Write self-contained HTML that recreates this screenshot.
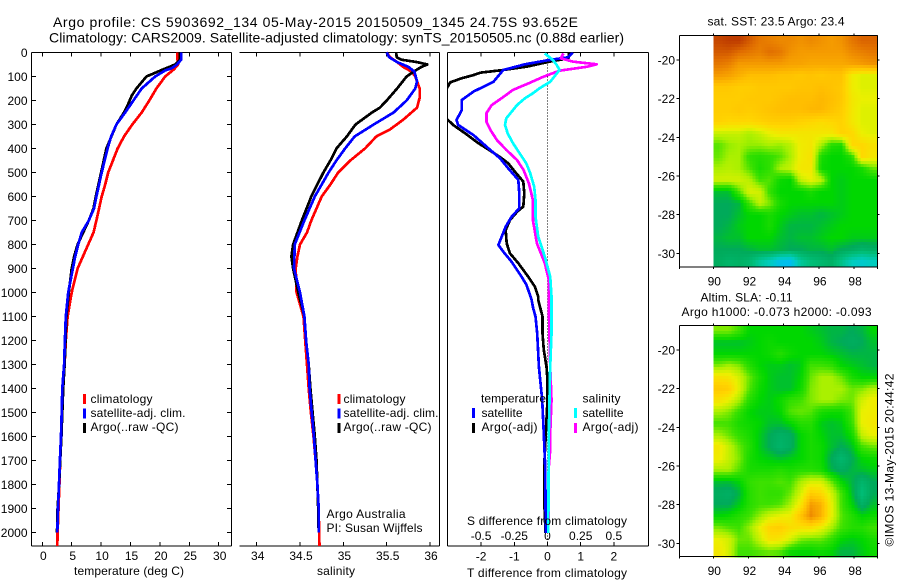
<!DOCTYPE html>
<html>
<head>
<meta charset="utf-8">
<title>Argo profile</title>
<style>
html,body{margin:0;padding:0;background:#fff;}
svg{display:block;}
text{font-family:"Liberation Sans",sans-serif;font-size:12px;fill:#000;}
</style>
</head>
<body>
<svg id="chart" xmlns="http://www.w3.org/2000/svg" width="900" height="580" viewBox="0 0 900 580">
<defs>
<clipPath id="clip-diff"><rect x="447.5" y="52.5" width="201" height="493.5"/></clipPath>
</defs>
<rect x="0" y="0" width="900" height="580" fill="#fff"/>
<text x="53" y="27" font-size="14" style="font-size:14px" textLength="525" lengthAdjust="spacing">Argo profile: CS 5903692_134 05-May-2015 20150509_1345 24.75S 93.652E</text>
<text x="49" y="42.5" style="font-size:14px" textLength="575" lengthAdjust="spacing">Climatology: CARS2009. Satellite-adjusted climatology: synTS_20150505.nc (0.88d earlier)</text>
<g id="heat-sst"></g>
<g id="heat-sla"></g>
<g id="axes"></g>
<g id="lines-temp"></g>
<g id="lines-sal"></g>
<g id="lines-diff" clip-path="url(#clip-diff)"></g>

<text x="129" y="575" text-anchor="middle" textLength="110" lengthAdjust="spacing">temperature (deg C)</text>
<text x="336" y="575" text-anchor="middle" textLength="38" lengthAdjust="spacing">salinity</text>
<text x="467" y="577" textLength="160" lengthAdjust="spacing">T difference from climatology</text>
<text x="467" y="525" textLength="160" lengthAdjust="spacing">S difference from climatology</text>

<g>
<rect x="83" y="394" width="3" height="10" fill="#f00"/>
<text x="90.5" y="403" textLength="62" lengthAdjust="spacing">climatology</text>
<rect x="83" y="408.500" width="3" height="10" fill="#00f"/>
<text x="90.5" y="417" textLength="95" lengthAdjust="spacing">satellite-adj. clim.</text>
<rect x="83" y="423" width="3" height="10" fill="#000"/>
<text x="90.5" y="431" textLength="88" lengthAdjust="spacing">Argo(..raw -QC)</text>
</g>
<g>
<rect x="337.500" y="394" width="3" height="10" fill="#f00"/>
<text x="343.500" y="403" textLength="62" lengthAdjust="spacing">climatology</text>
<rect x="337.500" y="408.500" width="3" height="10" fill="#00f"/>
<text x="343.500" y="417" textLength="95" lengthAdjust="spacing">satellite-adj. clim.</text>
<rect x="337.500" y="423" width="3" height="10" fill="#000"/>
<text x="343.500" y="431" textLength="88" lengthAdjust="spacing">Argo(..raw -QC)</text>
</g>
<text x="326.500" y="518" textLength="79" lengthAdjust="spacing">Argo Australia</text>
<text x="326.500" y="532" textLength="96" lengthAdjust="spacing">PI: Susan Wijffels</text>

<g>
<text x="481" y="402.500" textLength="65" lengthAdjust="spacing">temperature</text>
<rect x="472" y="408" width="3" height="10" fill="#00f"/>
<text x="481.500" y="417" textLength="41" lengthAdjust="spacing">satellite</text>
<rect x="472" y="423" width="3" height="10" fill="#000"/>
<text x="481.500" y="431" textLength="56" lengthAdjust="spacing">Argo(-adj)</text>
<text x="582.500" y="402.500" textLength="38" lengthAdjust="spacing">salinity</text>
<rect x="574" y="408" width="3" height="10" fill="#0ff"/>
<text x="582.500" y="417" textLength="41" lengthAdjust="spacing">satellite</text>
<rect x="574" y="423" width="3" height="10" fill="#f0f"/>
<text x="582.500" y="431" textLength="56" lengthAdjust="spacing">Argo(-adj)</text>
</g>

<text x="707.500" y="25.500" textLength="137" lengthAdjust="spacing">sat. SST: 23.5 Argo: 23.4</text>
<text x="700.500" y="301.500" textLength="92" lengthAdjust="spacing">Altim. SLA: -0.11</text>
<text x="681.500" y="316" textLength="190" lengthAdjust="spacing">Argo h1000: -0.073 h2000: -0.093</text>
<text transform="translate(893.500,546.500) rotate(-90)" x="0" y="0" textLength="173" lengthAdjust="spacing">©IMOS 13-May-2015 20:44:42</text>
</svg>

<script>
/* ---------- axis tick values ---------- */
var depthTicks = [0,100,200,300,400,500,600,700,800,900,1000,1100,1200,1300,1400,1500,1600,1700,1800,1900,2000];
var tempTicks = [0,5,10,15,20,25,30];
var salTicks = [34,34.5,35,35.5,36];
var tDiffTicks = [-2,-1,0,1,2];
var sDiffTicks = [-0.5,-0.25,0,0.25,0.5];
var lonTicks = [90,92,94,96,98];
var latTicks = [-20,-22,-24,-26,-28,-30];

/* ---------- temperature profiles ---------- */
var tempClimDepth = [0,30,50,70,100,150,200,250,300,350,400,450,500,550,600,700,750,800,850,900,950,1000,1100,1200,1300,1400,1500,1600,1700,1800,1900,2000,2056];
var tempClimValues = [23,23,23.1,22.4,20.9,19.4,18.2,16.9,15.3,13.9,12.8,12,11.2,10.7,10.1,9.2,8.7,7.8,6.9,6,5.5,5,4.3,4,3.8,3.5,3.35,3.2,3.05,2.9,2.75,2.6,2.55];
var tempSatDepth = [0,30,50,66,75,100,150,200,250,300,350,400,500,600,650,700,750,800,850,900,1000,1100,1200,1300,1400,1500,1600,1700,1800,1900,2000];
var tempSatValues = [23.6,23.6,22.9,22,20.9,19.2,16.9,15.5,14.1,12.6,11.7,11.1,10.1,9.2,8.8,7.9,6.7,6.1,5.6,5.2,4.4,4,3.85,3.7,3.4,3.3,3.18,3,2.84,2.67,2.55];
var tempArgoDepth = [0,30,50,70,100,150,180,220,250,300,400,500,600,650,700,800,850,900,1000,1100,1200,1300,1400,1500,1600,1700,1800,1900,2000];
var tempArgoValues = [23.4,23.4,22.6,20.6,17.7,16,15.2,14.5,13.9,12.6,10.9,10,9.1,8.7,7.9,6,5.4,5,4.5,4.1,3.95,3.8,3.55,3.4,3.25,3.05,2.85,2.6,2.5];

/* ---------- salinity profiles ---------- */
var salClimDepth = [0,20,40,60,80,100,150,190,230,280,320,350,400,450,500,550,600,700,750,800,850,900,1000,1100,1200,1300,1400,1500,1600,1700,1800,1900,2000,2056];
var salClimValues = [35.5,35.54,35.62,35.69,35.79,35.83,35.88,35.88,35.85,35.69,35.54,35.38,35.25,35.08,34.94,34.85,34.75,34.63,34.58,34.5,34.47,34.45,34.46,34.54,34.56,34.58,34.6,34.625,34.655,34.68,34.7,34.715,34.72,34.725];
var salSatDepth = [0,20,40,60,80,120,150,200,250,300,350,400,450,500,600,700,800,900,1000,1100,1200,1300,1400,1500,1600,1700,1800,1900,2000];
var salSatValues = [35.5,35.53,35.62,35.75,35.82,35.85,35.83,35.73,35.58,35.35,35.13,35.02,34.92,34.83,34.67,34.55,34.44,34.43,34.5,34.55,34.57,34.6,34.61,34.635,34.66,34.68,34.7,34.715,34.715];
var salArgoDepth = [0,20,30,40,50,60,80,100,150,200,230,250,300,350,400,450,500,600,700,800,850,900,1000,1100,1200,1300,1400,1500,1600,1700,1800,1900,2000];
var salArgoValues = [35.61,35.615,35.67,35.85,35.97,35.9,35.81,35.73,35.62,35.5,35.42,35.33,35.14,35.04,34.92,34.85,34.77,34.63,34.52,34.42,34.4,34.42,34.48,34.55,34.57,34.6,34.62,34.645,34.67,34.69,34.7,34.71,34.715];

/* ---------- difference profiles ---------- */
var tDiffSatDepth = [0,11,20,31,49,73,122,163,198,240,253,281,302,344,399,441,483,531,587,649,684,726,802,830,872,934,969,1031,1066,1100,1170,1309,1448,1587,1725,1864,2003];
var tDiffSatValues = [0.76,0.68,0.63,0.07,-0.68,-1.33,-1.63,-2.23,-2.58,-2.58,-2.63,-2.74,-2.69,-2.23,-1.78,-1.43,-1.18,-0.88,-0.85,-0.85,-1.08,-1.26,-1.48,-1.33,-1.08,-0.78,-0.63,-0.48,-0.43,-0.36,-0.31,-0.26,-0.16,-0.11,-0.07,-0.06,-0.05];
var tDiffArgoDepth = [0,24,38,59,73,84,94,108,125,142,200,278,302,337,378,413,441,462,497,538,587,642,663,698,740,795,837,878,934,976,1017,1031,1100,1170,1239,1309,1364,1448,1587,1698,1892,2003];
var tDiffArgoValues = [0.65,0.63,0.07,-0.63,-1.33,-2.03,-2.23,-2.6,-2.94,-3,-3.3,-3.02,-2.84,-2.48,-2.08,-1.68,-1.38,-1.18,-0.98,-0.73,-0.7,-0.73,-0.91,-1.13,-1.26,-1.23,-1.13,-0.88,-0.58,-0.38,-0.28,-0.28,-0.15,-0.15,-0.11,-0.03,0,0,-0.05,-0.09,-0.09,-0.06];
var sDiffSatDepth = [4,31,52,73,94,122,149,170,191,219,247,274,302,337,378,420,462,503,559,615,684,767,851,934,1017,1170,1309,1587,2003];
var sDiffSatValues = [-0.02,0.04,0.07,0.09,0.06,0.02,-0.06,-0.11,-0.17,-0.23,-0.27,-0.31,-0.32,-0.3,-0.26,-0.21,-0.16,-0.13,-0.1,-0.09,-0.09,-0.07,-0.02,0.02,0.03,0.03,0.02,0.01,0.006];
var sDiffArgoDepth = [4,24,38,49,59,76,101,128,156,184,219,253,288,323,365,406,448,490,545,615,698,795,878,948,1059,1309,1448,1587,1656,1725,2003];
var sDiffArgoValues = [0.12,0.1,0.19,0.37,0.3,0.09,-0.03,-0.14,-0.26,-0.33,-0.42,-0.46,-0.46,-0.43,-0.38,-0.31,-0.23,-0.18,-0.14,-0.11,-0.11,-0.08,-0.02,0.01,0.01,0.02,0.03,0.02,0.02,0.01,0.006];

/* ---------- satellite SST map, deg C, north to south ---------- */
var sstRow00 = [26.9,27,27,26.7,26.4,26.3,26.2,26.2,26.1,26.2,26.1,26,26.1,26.4,26.6,26.6];
var sstRow01 = [26.7,26.7,26.5,26.4,26.3,26.5,26.4,26.1,26,26,26,26,26,26.2,26.3,26.4];
var sstRow02 = [26.4,26.3,26,26,26,26,26,25.9,25.9,25.8,25.8,25.8,25.8,25.9,26,26.1];
var sstRow03 = [26,25.9,25.7,25.5,25.5,25.5,25.4,25.4,25.3,25.4,25.3,25.4,25.4,24.6,24.4,24.4];
var sstRow04 = [25.3,25.3,25.2,25.2,25.3,25.3,25.3,25.3,25.4,25.4,25.5,25.4,25.3,24.6,24.4,24.4];
var sstRow05 = [25.2,25.2,25.2,25.3,25.3,25.3,25.4,25.5,25.5,25.5,25.6,25.5,25.3,24.7,24.5,24.5];
var sstRow06 = [25.2,25.2,25.3,25.2,25.3,25.4,25.5,25.5,25.5,25.6,25.6,25.4,25.2,24.7,24.4,24.4];
var sstRow07 = [25.1,25,25,25,25.1,25.2,25.2,25.2,25.1,25,24.9,25,25.1,24.7,24.4,24.4];
var sstRow08 = [24.2,24.2,24.2,24,24.2,24.5,24.7,24.7,24.7,24.7,24.7,24.7,25.1,25,24.5,24.4];
var sstRow09 = [23.6,23.9,24,23.9,23.9,24,23.9,24.1,24.6,24.7,24,23.3,23.2,25,25,24.8];
var sstRow10 = [23.7,24,24,23.4,23.3,23.4,23.6,24,24.6,24.8,23.2,23,23,23.3,25,24.7];
var sstRow11 = [24,24.1,24,23.6,23.2,23.4,24,24.2,24.7,24.7,23.1,23,23,23,23.2,23.7];
var sstRow12 = [24.3,24.3,24.3,24.1,23.5,23.6,23.1,23,24.2,24.5,24.2,23,22.9,23,23,23];
var sstRow13 = [22.8,22.8,23.6,24.4,24.3,23.4,23,23,23,23.2,23,23,22.9,23,23,23];
var sstRow14 = [22.6,22.6,22.7,23.5,24.2,23.8,23.2,23,23,23,23,23,22.9,23,23,23];
var sstRow15 = [22.6,22.6,22.8,23,23,23.2,23,22.9,22.8,22.8,22.7,22.8,22.9,23,23,23];
var sstRow16 = [22.6,22.7,22.9,23,23,23.2,22.9,22.7,22.7,22.7,22.8,22.9,23,23,23,23];
var sstRow17 = [22.7,22.8,22.8,23,23,23,22.8,22.7,22.8,22.8,22.9,23,23,22.9,22.9,22.9];
var sstRow18 = [22.6,22.6,22.6,22.7,22.8,22.8,22.7,22.6,22.6,22.7,22.7,22.8,22.6,22.5,22.3,22.4];
var sstRow19 = [22.5,22.3,22.4,22.2,21.6,21.2,20.6,20.5,21.6,22,22.2,22.4,21.8,21.2,21,21.2];

/* ---------- altimetric SLA map, metres, north to south ---------- */
var slaRow00 = [-0.02,-0.02,-0.05,-0.1,-0.1,-0.1,-0.1,-0.1,-0.1,-0.11,-0.12,-0.13,-0.13,-0.14,-0.13,-0.1];
var slaRow01 = [-0.12,-0.12,-0.12,-0.11,-0.1,-0.09,-0.1,-0.1,-0.1,-0.1,-0.11,-0.13,-0.14,-0.15,-0.14,-0.12];
var slaRow02 = [-0.1,-0.1,-0.1,-0.1,-0.1,-0.09,-0.07,-0.09,-0.1,-0.1,-0.1,-0.11,-0.12,-0.13,-0.13,-0.13];
var slaRow03 = [-0.02,0,-0.02,-0.07,-0.1,-0.11,-0.11,-0.12,-0.11,-0.05,-0.05,-0.06,-0.1,-0.11,-0.12,-0.13];
var slaRow04 = [0.08,0.07,0.03,-0.03,-0.08,-0.11,-0.12,-0.12,-0.1,-0.03,0,0,-0.03,-0.08,-0.1,-0.1];
var slaRow05 = [0.13,0.12,0.04,-0.04,-0.09,-0.11,-0.12,-0.12,-0.09,-0.02,0,0,0,-0.03,-0.02,0.01];
var slaRow06 = [0.08,0.05,0,-0.07,-0.1,-0.11,-0.09,-0.06,-0.05,-0.02,0,0,-0.02,-0.03,0.03,0.06];
var slaRow07 = [0,-0.02,-0.06,-0.1,-0.11,-0.11,-0.1,-0.04,-0.03,-0.04,-0.08,-0.09,-0.09,-0.05,0.05,0.06];
var slaRow08 = [-0.05,-0.05,-0.08,-0.09,-0.1,-0.12,-0.12,-0.1,-0.07,-0.07,-0.11,-0.12,-0.11,-0.06,0.05,0.07];
var slaRow09 = [0,-0.03,-0.06,-0.08,-0.11,-0.14,-0.16,-0.15,-0.1,-0.08,-0.1,-0.12,-0.12,-0.09,0.02,0.05];
var slaRow10 = [0.07,0.02,-0.03,-0.07,-0.11,-0.14,-0.17,-0.15,-0.1,-0.08,-0.09,-0.12,-0.14,-0.12,-0.05,-0.03];
var slaRow11 = [0.06,0.02,-0.02,-0.08,-0.1,-0.11,-0.12,-0.11,-0.1,-0.08,-0.09,-0.14,-0.18,-0.14,-0.1,-0.09];
var slaRow12 = [0,0,-0.04,-0.08,-0.08,-0.08,-0.07,-0.08,-0.07,-0.07,-0.08,-0.13,-0.15,-0.13,-0.12,-0.11];
var slaRow13 = [-0.12,-0.12,-0.1,-0.06,-0.05,-0.05,-0.04,-0.05,0,0.03,0.03,-0.03,-0.1,-0.13,-0.17,-0.14];
var slaRow14 = [-0.15,-0.16,-0.13,-0.07,-0.05,-0.06,-0.06,-0.03,0.03,0.12,0.1,0.03,-0.05,-0.12,-0.2,-0.14];
var slaRow15 = [-0.14,-0.14,-0.11,-0.07,-0.05,-0.05,-0.04,0,0.07,0.2,0.17,0.05,-0.05,-0.1,-0.16,-0.12];
var slaRow16 = [-0.1,-0.09,-0.07,-0.05,-0.01,0.03,0.05,0.06,0.14,0.22,0.17,0.05,-0.04,-0.07,-0.1,-0.09];
var slaRow17 = [-0.02,-0.04,-0.05,-0.01,0.05,0.11,0.12,0.09,0.08,0.08,0.05,0,-0.05,-0.07,-0.07,-0.05];
var slaRow18 = [0.05,0.03,-0.03,-0.03,0.02,0.08,0.07,0.03,-0.02,-0.03,-0.03,-0.06,-0.1,-0.11,-0.1,-0.08];
var slaRow19 = [0.07,0.03,-0.05,-0.05,-0.04,-0.03,-0.04,-0.09,-0.1,-0.1,-0.09,-0.1,-0.13,-0.13,-0.11,-0.09];

var sstGrid = [sstRow00,sstRow01,sstRow02,sstRow03,sstRow04,sstRow05,sstRow06,sstRow07,sstRow08,sstRow09,sstRow10,sstRow11,sstRow12,sstRow13,sstRow14,sstRow15,sstRow16,sstRow17,sstRow18,sstRow19];
var slaGrid = [slaRow00,slaRow01,slaRow02,slaRow03,slaRow04,slaRow05,slaRow06,slaRow07,slaRow08,slaRow09,slaRow10,slaRow11,slaRow12,slaRow13,slaRow14,slaRow15,slaRow16,slaRow17,slaRow18,slaRow19];

/* ---------- axis functions ---------- */
var NS = 'http://www.w3.org/2000/svg';
function depthY(d){ return 52.5 + d * 0.24; }
function tempX(t){ return 42.3 + t * 5.88; }
function salX(s){ return 256.7 + (s - 34) * 86.67; }
function tDiffX(t){ return 547.5 + t * 33.2; }
function sDiffX(s){ return 547.5 + s * 132.8; }
function lonX(lon){ return 713.3 + (lon - 90) * 17.6; }
function latOffsetY(lat, y20){ return y20 + (-20 - lat) * 19.33; }
function sstLevel(v){ return v; }
function slaLevel(v){ return 24 + v * 10; }

function make(tag, attrs, parent){
  var el = document.createElementNS(NS, tag);
  for (var k in attrs) el.setAttribute(k, attrs[k]);
  parent.appendChild(el);
  return el;
}

var axesG = document.getElementById('axes');

function segment(x1,y1,x2,y2,name){
  var el = make('line',{x1:x1,y1:y1,x2:x2,y2:y2,stroke:'#000','stroke-width':1,'shape-rendering':'crispEdges'},axesG);
  
  
  return el;
}
function label(x,y,str,anchor,name){
  var el = make('text',{x:x,y:y,'text-anchor':anchor},axesG);
  el.textContent = str;
  
  
  return el;
}

/* profile panels */
var top0 = 52.5, bot0 = 546;
segment(31.5,top0,231.5,top0,'temperature-panel-top');
segment(31.5,bot0,231.5,bot0,'temperature-panel-bottom');
segment(31.5,top0,31.5,bot0,'temperature-panel-left');
segment(231.5,top0,231.5,bot0,'temperature-panel-right');
segment(239.5,top0,439.5,top0,'salinity-panel-top');
segment(239.5,bot0,439.5,bot0,'salinity-panel-bottom');
segment(439.5,top0,439.5,bot0,'salinity-panel-right');
segment(447.5,top0,648.5,top0,'difference-panel-top');
segment(447.5,bot0,648.5,bot0,'difference-panel-bottom');
segment(447.5,top0,447.5,bot0,'difference-panel-left');
segment(648.5,top0,648.5,bot0,'difference-panel-right');

depthTicks.forEach(function(d){
  var y = depthY(d);
  segment(31.5,y,36,y,'depth-tick-left');
  segment(227,y,231.5,y,'depth-tick-right');
  label(27.5,y+4.5,String(d),'end','depth-tick-label');
});
tempTicks.forEach(function(t){
  var x = tempX(t);
  segment(x,top0,x,top0+4,'temperature-tick-top');
  segment(x,bot0-4,x,bot0,'temperature-tick-bottom');
  label(x+1,560,String(t),'middle','temperature-tick-label');
});
salTicks.forEach(function(s){
  var x = salX(s);
  segment(x,top0,x,top0+4,'salinity-tick-top');
  segment(x,bot0-4,x,bot0,'salinity-tick-bottom');
  label(x+1,560,String(s),'middle','salinity-tick-label');
});
tDiffTicks.forEach(function(t){
  var x = tDiffX(t);
  segment(x,top0,x,top0+4,'t-difference-tick-top');
  segment(x,bot0-4,x,bot0,'t-difference-tick-bottom');
  label(x,560.5,String(t),'middle','t-difference-tick-label');
});
sDiffTicks.forEach(function(s){
  var x = sDiffX(s);
  label(x,540,String(s),'middle','s-difference-tick-label');
});

/* map panels */
function mapAxes(yTop,yBot,y20,prefix,showAll){
  segment(679.5,yTop,877.5,yTop,prefix+'-panel-top');
  segment(679.5,yBot,877.5,yBot,prefix+'-panel-bottom');
  segment(679.5,yTop,679.5,yBot,prefix+'-panel-left');
  segment(877.5,yTop,877.5,yBot,prefix+'-panel-right');
  segment(679.5,yBot,679.5,yBot+2,prefix+'-corner-tick');
  segment(877.5,yBot,877.5,yBot+2,prefix+'-corner-tick');
  lonTicks.forEach(function(lon){
    var x = lonX(lon);
    segment(x,yTop-2,x,yTop,prefix+'-lon-tick-top');
    segment(x,yBot,x,yBot+2,prefix+'-lon-tick-bottom');
    label(x+1,yBot+18.5,String(lon),'middle',prefix+'-lon-tick-label');
  });
  latTicks.forEach(function(lat){
    var y = latOffsetY(lat,y20);
    segment(676.5,y,679.5,y,prefix+'-lat-tick-left');
    segment(877.5,y,879.5,y,prefix+'-lat-tick-right');
    label(675,y+4.5,String(lat),'end',prefix+'-lat-tick-label');
  });
}
mapAxes(35.5,267,60,'sst');
mapAxes(325.5,556.5,350,'sla');

/* zero line */
var zero = make('line',{x1:tDiffX(0),y1:depthY(0),x2:tDiffX(0),y2:bot0,stroke:'#000','stroke-width':1,'stroke-dasharray':'1 2','shape-rendering':'crispEdges'},axesG);



/* series */
function drawLine(groupId,depths,values,xFn,color,name,width){
  var pts = [];
  for (var i=0;i<depths.length;i++){
    pts.push(xFn(values[i]).toFixed(1)+','+depthY(depths[i]).toFixed(1));
  }
  var g = document.getElementById(groupId);
  var el = make('polyline',{points:pts.join(' '),fill:'none',stroke:color,'stroke-width':width,'stroke-linejoin':'round','shape-rendering':'crispEdges'},g);
  
  
}
drawLine('lines-temp',tempClimDepth,tempClimValues,tempX,'#f00','temperature-climatology-line',2.7);
drawLine('lines-temp',tempArgoDepth,tempArgoValues,tempX,'#000','temperature-argo-line',2.7);
drawLine('lines-temp',tempSatDepth,tempSatValues,tempX,'#00f','temperature-satellite-line',2.7);
drawLine('lines-sal',salClimDepth,salClimValues,salX,'#f00','salinity-climatology-line',2.7);
drawLine('lines-sal',salArgoDepth,salArgoValues,salX,'#000','salinity-argo-line',2.7);
drawLine('lines-sal',salSatDepth,salSatValues,salX,'#00f','salinity-satellite-line',2.7);
drawLine('lines-diff',tDiffArgoDepth,tDiffArgoValues,tDiffX,'#000','t-difference-argo-line',2.7);
drawLine('lines-diff',tDiffSatDepth,tDiffSatValues,tDiffX,'#00f','t-difference-satellite-line',2.7);
drawLine('lines-diff',sDiffArgoDepth,sDiffArgoValues,sDiffX,'#f0f','s-difference-argo-line',2.7);
drawLine('lines-diff',sDiffSatDepth,sDiffSatValues,sDiffX,'#0ff','s-difference-satellite-line',2.7);

/* heatmaps */
var rampLevels = [20.5,21.2,22,22.6,23,23.5,24,24.5,25,25.5,26,26.5,27];
var rampReds = [0,0,0,0,0,60,170,235,255,255,245,225,190];
var rampGreens = [190,205,190,170,215,225,240,240,215,190,155,110,60];
var rampBlues = [240,190,120,90,0,0,0,0,0,0,0,0,0];
function rampColor(level){
  var n = rampLevels.length, i = 0;
  if (level <= rampLevels[0]) i = 0;
  else if (level >= rampLevels[n-1]) i = n-2;
  else while (level > rampLevels[i+1]) i++;
  var f = (level - rampLevels[i]) / (rampLevels[i+1] - rampLevels[i]);
  f = Math.max(0, Math.min(1, f));
  var r = Math.round(rampReds[i] + f*(rampReds[i+1]-rampReds[i]));
  var g = Math.round(rampGreens[i] + f*(rampGreens[i+1]-rampGreens[i]));
  var b = Math.round(rampBlues[i] + f*(rampBlues[i+1]-rampBlues[i]));
  return 'rgb('+r+','+g+','+b+')';
}
function sampleGrid(grid,u,v){
  var rows = grid.length, cols = grid[0].length;
  var cu = Math.max(0, Math.min(cols-1, u*cols-0.5));
  var cv = Math.max(0, Math.min(rows-1, v*rows-0.5));
  var i0 = Math.floor(cu), j0 = Math.floor(cv);
  var i1 = Math.min(cols-1,i0+1), j1 = Math.min(rows-1,j0+1);
  var fu = cu-i0, fv = cv-j0;
  return (grid[j0][i0]*(1-fu)+grid[j0][i1]*fu)*(1-fv)+(grid[j1][i0]*(1-fu)+grid[j1][i1]*fu)*fv;
}
function drawHeat(groupId,grid,levelFn,y20,cellName){
  var g = document.getElementById(groupId);
  var lonStart = 90, lonEnd = 99.32, latStart = -18.7, latEnd = -30.7;
  var x0 = lonX(lonStart), x1 = lonX(lonEnd);
  var y0 = latOffsetY(latStart,y20), y1 = latOffsetY(latEnd,y20);
  var step = 3;
  for (var y=y0; y<y1; y+=step){
    for (var x=x0; x<x1; x+=step){
      var u = (x+step/2-x0)/(x1-x0), v = (y+step/2-y0)/(y1-y0);
      var val = sampleGrid(grid,u,v);
      var w = Math.min(step, x1-x)+0.5, h = Math.min(step, y1-y)+0.5;
      var c = make('rect',{x:x.toFixed(1),y:y.toFixed(1),width:w.toFixed(1),height:h.toFixed(1),fill:rampColor(levelFn(val)),'shape-rendering':'crispEdges'},g);
      
      
    }
  }
}
drawHeat('heat-sst',sstGrid,sstLevel,60,'sst-heatmap-cell');
drawHeat('heat-sla',slaGrid,slaLevel,350,'sla-heatmap-cell');
</script>
</body>
</html>
